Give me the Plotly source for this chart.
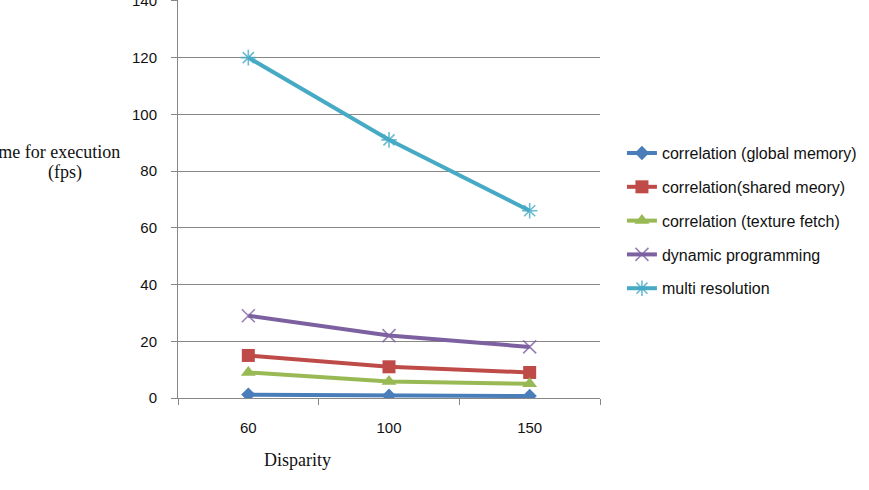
import plotly.graph_objects as go

disparity = ["60", "100", "150"]
global_memory = [1.2, 0.8, 0.7]
shared_memory = [15, 11, 9]
texture_fetch = [9, 5.8, 5]
dynamic_prog = [29, 22, 18]
multi_res = [120, 91, 66]

names = ["correlation (global memory)", "correlation(shared meory)",
         "correlation (texture fetch)", "dynamic programming", "multi resolution"]
series = [global_memory, shared_memory, texture_fetch, dynamic_prog, multi_res]
colors = ["#4A7EBB", "#BE4B48", "#98B954", "#7D60A0", "#46AAC5"]
symbols = ["diamond", "square", "triangle-up", "x-thin-open", "asterisk-open"]
sizes = [11, 13, 13, 13, 13]

fig = go.Figure()
for i, (n, s) in enumerate(zip(names, series)):
    sym = symbols[i]
    marker = dict(symbol=sym, size=sizes[i], color=colors[i])
    if sym.endswith("open"):
        marker["line"] = dict(width=1.6, color=colors[i])
        marker["opacity"] = 0.8
    fig.add_trace(go.Scatter(
        x=disparity, y=s, name=n, mode="lines+markers",
        line=dict(color=colors[i], width=4),
        marker=marker, legendgroup=f"g{i}"))

grid = "#878787"
fig.update_layout(
    width=869, height=490,
    margin=dict(l=178, r=269, t=0, b=92, autoexpand=False),
    paper_bgcolor="white", plot_bgcolor="white",
    showlegend=True,
    legend=dict(x=1.052, y=0.658, xanchor="left", yanchor="top",
                font=dict(family="Liberation Sans", size=16, color="#111"),
                tracegroupgap=10, bgcolor="rgba(0,0,0,0)"),
    xaxis=dict(type="category", range=[-0.5, 2.5], showgrid=False, automargin=False,
               showline=True, linecolor=grid, linewidth=1,
               ticks="outside", tickson="boundaries", ticklen=6, tickcolor=grid,
               ticklabelstandoff=16,
               tickfont=dict(family="Liberation Sans", size=15, color="#111")),
    yaxis=dict(range=[0, 140.3], tickvals=[0, 20, 40, 60, 80, 100, 120, 140],
               automargin=False,
               showgrid=True, gridcolor=grid, gridwidth=1,
               showline=True, linecolor=grid, linewidth=1, zeroline=False,
               ticks="outside", ticklen=6, tickcolor=grid,
               ticklabelstandoff=11, ticklabeloverflow="allow",
               tickfont=dict(family="Liberation Sans", size=15, color="#111")),
    annotations=[
        dict(text="Time for execution", xref="paper", yref="paper",
             x=(122 - 178) / 422, y=(398 - 152) / 398, xanchor="right", yanchor="middle",
             showarrow=False, font=dict(family="Liberation Serif", size=18, color="#111")),
        dict(text="(fps)", xref="paper", yref="paper",
             x=(64.5 - 178) / 422, y=(398 - 172) / 398, xanchor="center", yanchor="middle",
             showarrow=False, font=dict(family="Liberation Serif", size=18, color="#111")),
        dict(text="Disparity", xref="paper", yref="paper",
             x=(297 - 178) / 422, y=(398 - 460) / 398, xanchor="center", yanchor="middle",
             showarrow=False, font=dict(family="Liberation Serif", size=18, color="#111")),
    ],
)
fig.write_html("out.html")
